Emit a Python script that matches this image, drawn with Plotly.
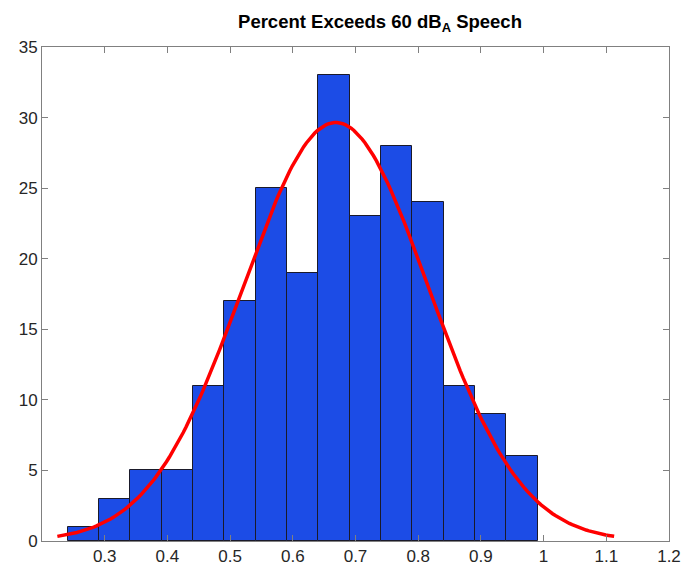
import numpy as np
import plotly.graph_objects as go

# Histogram bins (left edge of first bin, bin width) and counts
bin_start = 0.2408
bin_width = 0.05
counts = [1, 3, 5, 5, 11, 17, 25, 19, 33, 23, 28, 24, 11, 9, 6]

# Normal fit parameters
fit_mu = 0.6685
fit_sigma = 0.148

x_ticks = [0.3, 0.4, 0.5, 0.6, 0.7, 0.8, 0.9, 1.0, 1.1, 1.2]
x_tick_text = ["0.3", "0.4", "0.5", "0.6", "0.7", "0.8", "0.9", "1", "1.1", "1.2"]
y_ticks = [0, 5, 10, 15, 20, 25, 30, 35]

n_bins = len(counts)
centers = bin_start + bin_width * (np.arange(n_bins) + 0.5)
n_total = sum(counts)

# Fitted density scaled to counts, drawn over mu +/- 3 sigma
xf = np.linspace(fit_mu - 3 * fit_sigma, fit_mu + 3 * fit_sigma, 200)
yf = n_total * bin_width * np.exp(-0.5 * ((xf - fit_mu) / fit_sigma) ** 2) / (fit_sigma * np.sqrt(2 * np.pi))

font_family = "Liberation Sans, Arial, Helvetica, sans-serif"
axis_color = "#808080"
tick_font = dict(family=font_family, size=17, color="#262626")

W, H = 684, 573
ML, MR, MT, MB = 42, 15, 47, 32

fig = go.Figure()
fig.add_trace(go.Bar(
    x=centers, y=counts, width=bin_width,
    marker=dict(color="#1c4ce6", line=dict(color="#1a1a2a", width=1)),
    showlegend=False,
))
fig.add_trace(go.Scatter(
    x=xf, y=yf, mode="lines",
    line=dict(color="#ff0000", width=3.5),
    showlegend=False,
))

fig.update_layout(
    width=W, height=H,
    margin=dict(l=ML, r=MR, t=MT, b=MB, autoexpand=False),
    paper_bgcolor="white", plot_bgcolor="white",
    bargap=0,
    title=dict(
        text="<b>Percent Exceeds 60 dB<sub>A</sub> Speech</b>",
        x=(380 - ML) / (W - ML - MR), xanchor="center", xref="paper",
        y=1 - 22 / H, yanchor="middle",
        font=dict(family=font_family, size=18.5, color="black"),
    ),
    xaxis=dict(
        range=[0.2, 1.2], tickvals=x_ticks, ticktext=x_tick_text,
        ticks="inside", ticklen=6, tickcolor=axis_color, tickwidth=1,
        showline=True, linecolor=axis_color, linewidth=1, mirror="ticks",
        showgrid=False, zeroline=False, tickfont=tick_font, automargin=False,
    ),
    yaxis=dict(
        range=[0, 35], tickvals=y_ticks,
        ticks="inside", ticklen=6, tickcolor=axis_color, tickwidth=1,
        showline=True, linecolor=axis_color, linewidth=1, mirror="ticks",
        showgrid=False, zeroline=False, tickfont=tick_font, automargin=False,
    ),
)

fig.write_html("out.html")
